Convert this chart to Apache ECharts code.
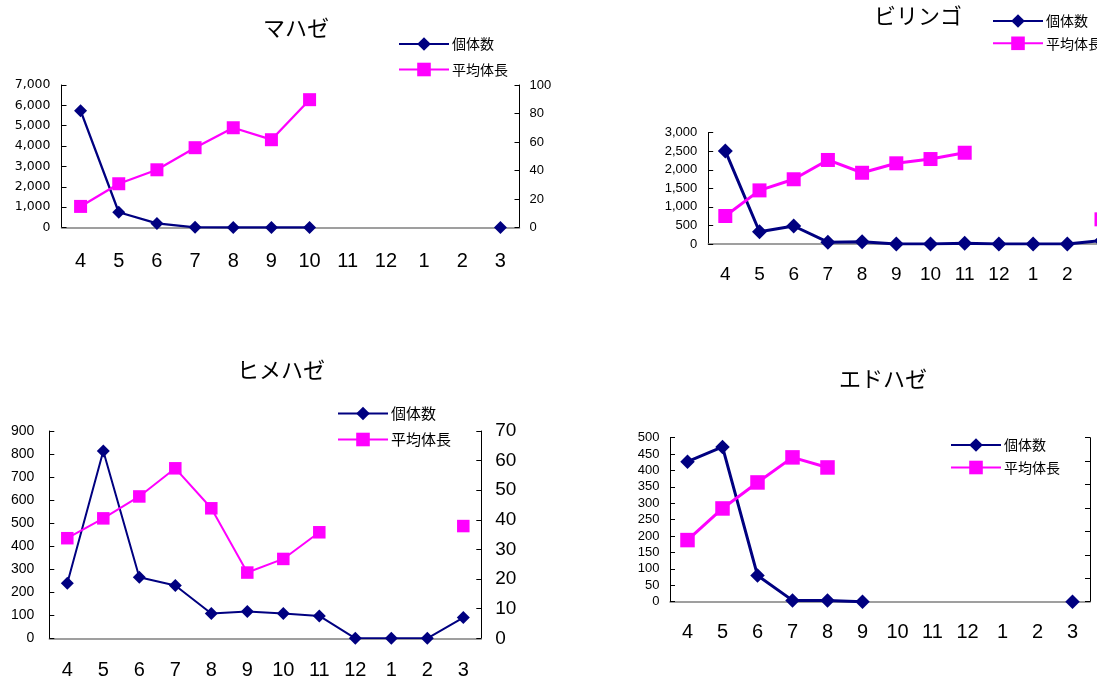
<!DOCTYPE html>
<html>
<head>
<meta charset="utf-8">
<script src="https://cdn.jsdelivr.net/npm/echarts@6/dist/echarts.min.js"></script>
<style>
html,body{margin:0;padding:0;background:#fff;}
#chart{width:1097px;height:680px;}
</style>
</head>
<body>
<div id="chart"></div>
<script>
// ---- data ----
const months = ['4','5','6','7','8','9','10','11','12','1','2','3'];
const seriesNames = ['個体数', '平均体長'];
const titles = ['マハゼ', 'ビリンゴ', 'ヒメハゼ', 'エドハゼ'];

const mahazeCount  = [5740, 750, 200, 10, 0, 0, 0, null, null, null, null, 0];
const mahazeLength = [14.8, 30.7, 40.5, 56.0, 70.0, 61.6, 89.7, null, null, null, null, null];

const biringoCount  = [2510, 330, 485, 50, 60, 0, 0, 20, 0, 0, 0, 90];
const biringoLength = [15.1, 28.9, 34.9, 45.3, 38.4, 43.5, 45.8, 49.2, null, null, null, 13.3];

const himehazeCount  = [239, 813, 265, 229, 108, 116, 108, 97, 0, 0, 0, 90];
const himehazeLength = [33.8, 40.5, 47.9, 57.4, 43.9, 22.2, 26.8, 35.8, null, null, null, 37.9];

const edohazeCount  = [427, 472, 80, 4, 4, 0, null, null, null, null, null, 0];
const edohazeLength = [26.3, 39.8, 50.9, 61.6, 57.3, null, null, null, null, null, null, null];

// tick labels
const mahazeLeftTicks   = [0, 1000, 2000, 3000, 4000, 5000, 6000, 7000];
const mahazeRightTicks  = [0, 20, 40, 60, 80, 100];
const biringoLeftTicks  = [0, 500, 1000, 1500, 2000, 2500, 3000];
const biringoRightTicks = [0, 10, 20, 30, 40, 50, 60];
const himehazeLeftTicks = [0, 100, 200, 300, 400, 500, 600, 700, 800, 900];
const himehazeRightTicks= [0, 10, 20, 30, 40, 50, 60, 70];
const edohazeLeftTicks  = [0, 50, 100, 150, 200, 250, 300, 350, 400, 450, 500];
const edohazeRightTicks = [0, 10, 20, 30, 40, 50, 60, 70];

// ---- layout / style ----
const NAVY = '#000080', PINK = '#FF00FF';
const JP = 'Noto Sans CJK JP';
const NUM = 'Liberation Sans';

const panels = [
  { count: mahazeCount, len: mahazeLength, lt: mahazeLeftTicks, rt: mahazeRightTicks,
    grid: {left: 61.5, top: 85, width: 458, height: 142.5},
    title: {x: 291, y: 24, size: 22},
    legend: {left: 393, top: 32, gap: 11.5, ih: 17, size: 14},
    xFont: 20, xMargin: 24, lFont: 12.5, lFam: 'DejaVu Sans', lMargin: 11,
    rShow: true, rFont: 13, rMargin: 10,
    sym: 13, sq: 13, lw: 2.3 },
  { count: biringoCount, len: biringoLength, lt: biringoLeftTicks, rt: biringoRightTicks,
    grid: {left: 708.2, top: 132.7, width: 410.4, height: 111.3},
    title: {x: 913, y: 12, size: 22},
    legend: {left: 987, top: 9, gap: 8.3, ih: 17, size: 14},
    xFont: 19, xMargin: 21, lFont: 13, lFam: NUM, lMargin: 11,
    rShow: false, rFont: 13, rMargin: 10,
    sym: 15, sq: 14, lw: 3 },
  { count: himehazeCount, len: himehazeLength, lt: himehazeLeftTicks, rt: himehazeRightTicks,
    grid: {left: 49.3, top: 431, width: 432, height: 207.3},
    title: {x: 276, y: 366, size: 22},
    legend: {left: 332, top: 401, gap: 11, ih: 17, size: 15},
    xFont: 20, xMargin: 22, lFont: 14, lFam: NUM, lMargin: 15,
    rShow: true, rFont: 19, rMargin: 14,
    sym: 13, sq: 12.5, lw: 2 },
  { count: edohazeCount, len: edohazeLength, lt: edohazeLeftTicks, rt: edohazeRightTicks,
    grid: {left: 670, top: 437.7, width: 420, height: 164},
    title: {x: 878, y: 375, size: 22},
    legend: {left: 945, top: 433, gap: 8.5, ih: 17, size: 14},
    xFont: 20, xMargin: 21, lFont: 13, lFam: NUM, lMargin: 10.5,
    rShow: false, rFont: 13, rMargin: 10,
    sym: 14.5, sq: 14.5, lw: 3 }
];

function fmtThousands(v) {
  return String(v).replace(/\B(?=(\d{3})+(?!\d))/g, ',');
}

const option = { animation: false, backgroundColor: '#fff',
  title: [], legend: [], grid: [], xAxis: [], yAxis: [], series: [] };

panels.forEach((p, i) => {
  option.grid.push(Object.assign({containLabel: false, outerBoundsMode: 'none'}, p.grid));
  option.title.push({
    text: titles[i], left: p.title.x, top: p.title.y - p.title.size / 2 - 1,
    textAlign: 'center',
    textStyle: {fontFamily: JP, fontSize: p.title.size, fontWeight: 'normal', color: '#000'}
  });
  option.legend.push({
    data: seriesNames, orient: 'vertical', left: p.legend.left, top: p.legend.top,
    itemWidth: 50, itemHeight: p.legend.ih, itemGap: p.legend.gap,
    textStyle: {fontFamily: JP, fontSize: p.legend.size, color: '#000', padding: [0,0,0,-2]},
    selectedMode: false
  });
  option.xAxis.push({
    type: 'category', gridIndex: i, data: months, boundaryGap: true,
    axisLine: {lineStyle: {color: '#808080', width: 1.5}},
    axisTick: {inside: true, length: 5, alignWithLabel: false, lineStyle: {color: '#000'}},
    axisLabel: {fontFamily: NUM, fontSize: p.xFont, color: '#000', margin: p.xMargin, interval: 0},
    splitLine: {show: false}
  });
  const lt = p.lt, rt = p.rt;
  option.yAxis.push({
    type: 'value', gridIndex: i, position: 'left',
    min: lt[0], max: lt[lt.length - 1], interval: lt[1] - lt[0],
    axisLine: {show: true, lineStyle: {color: '#000', width: 1}},
    axisTick: {show: true, inside: true, length: 5, lineStyle: {color: '#000'}},
    axisLabel: {fontFamily: p.lFam, fontSize: p.lFont, color: '#000', margin: p.lMargin,
      formatter: fmtThousands},
    splitLine: {show: false}
  });
  option.yAxis.push({
    type: 'value', gridIndex: i, position: 'right',
    min: rt[0], max: rt[rt.length - 1], interval: rt[1] - rt[0],
    axisLine: {show: true, lineStyle: {color: '#000', width: 1}},
    axisTick: {show: true, inside: true, length: 5, lineStyle: {color: '#000'}},
    axisLabel: {show: p.rShow, fontFamily: NUM, fontSize: p.rFont, color: '#000', margin: p.rMargin},
    splitLine: {show: false}
  });
  option.series.push({
    name: seriesNames[0], type: 'line', xAxisIndex: i, yAxisIndex: i * 2,
    data: p.count, symbol: 'diamond', symbolSize: p.sym, showAllSymbol: true,
    lineStyle: {color: NAVY, width: p.lw}, itemStyle: {color: NAVY},
    connectNulls: false, z: 3
  });
  option.series.push({
    name: seriesNames[1], type: 'line', xAxisIndex: i, yAxisIndex: i * 2 + 1,
    data: p.len, symbol: 'rect', symbolSize: p.sq, showAllSymbol: true,
    lineStyle: {color: PINK, width: p.lw}, itemStyle: {color: PINK},
    connectNulls: false, z: 4
  });
});

const chart = echarts.init(document.getElementById('chart'), null, {renderer: 'canvas'});
chart.setOption(option);
</script>
</body>
</html>
